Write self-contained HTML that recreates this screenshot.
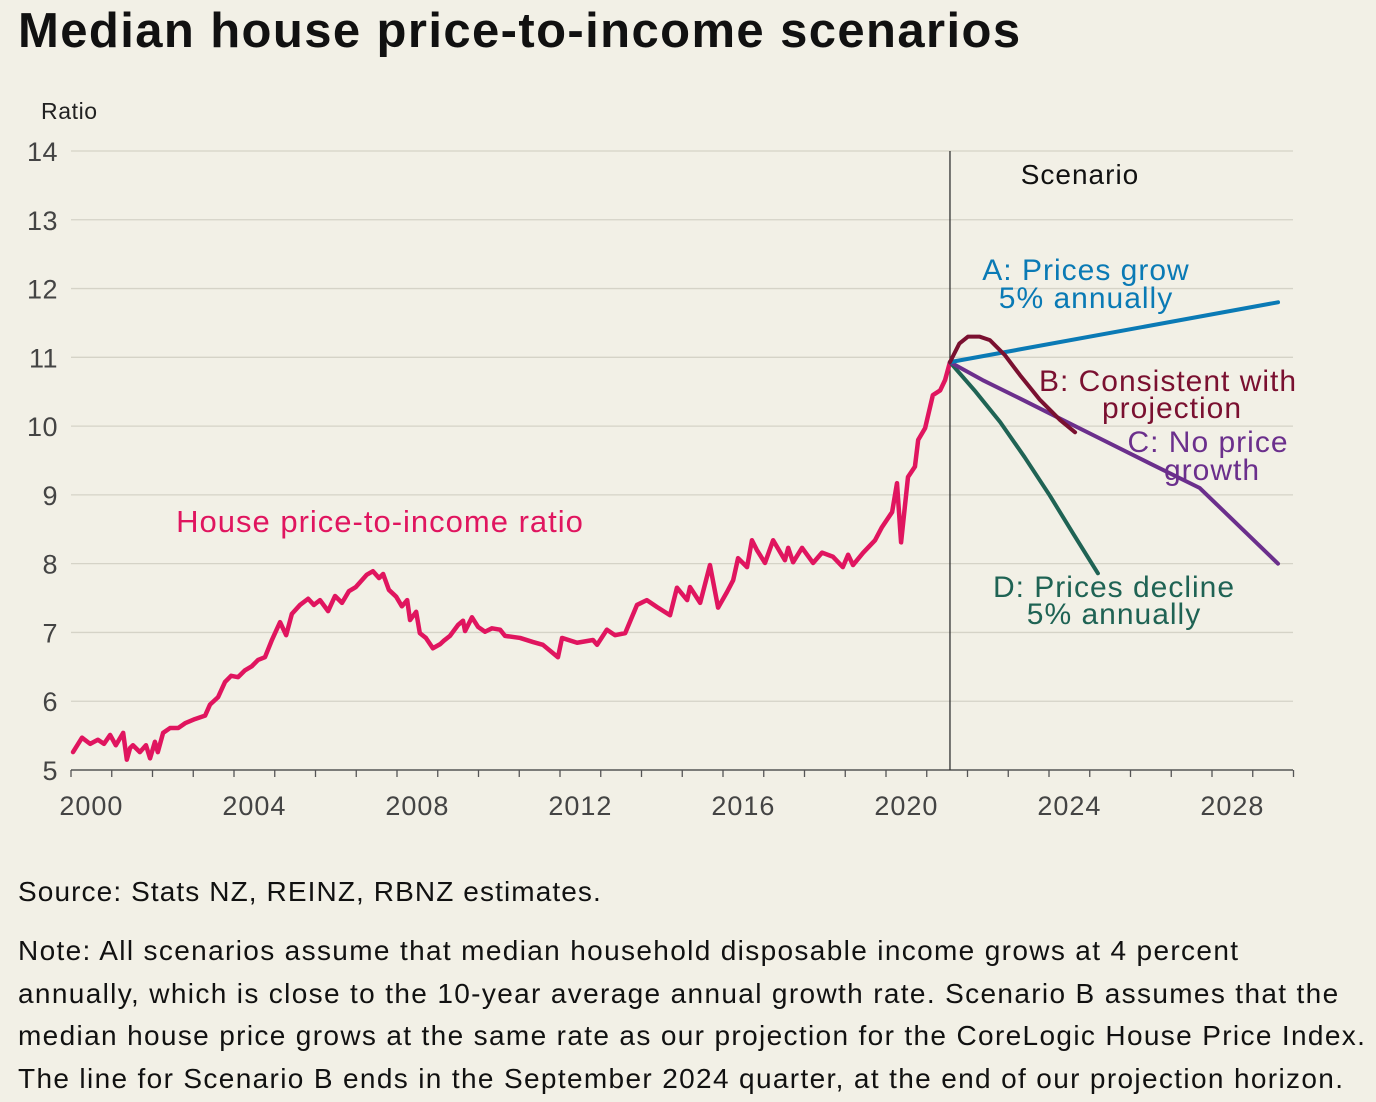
<!DOCTYPE html>
<html><head><meta charset="utf-8"><style>
body{margin:0;background:#f2f0e6;font-family:"Liberation Sans",sans-serif;}
#wrap{position:relative;width:1376px;height:1102px;overflow:hidden;background:#f2f0e6}
.t{position:absolute;color:#111;white-space:nowrap}
</style></head><body>
<div id="wrap">
<div class="t" style="left:18px;top:3px;font-size:49px;font-weight:bold;letter-spacing:1.4px">Median house price-to-income scenarios</div>
<svg id="chart" width="1376" height="860" style="position:absolute;left:0;top:0"></svg>
<div class="t" style="left:18px;top:876px;font-size:28px;letter-spacing:1.1px">Source: Stats NZ, REINZ, RBNZ estimates.</div>
<div class="t" style="left:18px;top:930px;font-size:28px;line-height:42.5px;letter-spacing:1.35px">Note: All scenarios assume that median household disposable income grows at 4 percent<br>annually, which is close to the 10-year average annual growth rate. Scenario B assumes that the<br>median house price grows at the same rate as our projection for the CoreLogic House Price Index.<br>The line for Scenario B ends in the September 2024 quarter, at the end of our projection horizon.</div>
</div>
<script>
const yTicks=[5,6,7,8,9,10,11,12,13,14];
const xTickLabels=[2000,2004,2008,2012,2016,2020,2024,2028];
const histDates=[2000.05,2000.27,2000.47,2000.66,2000.81,2000.96,2001.10,2001.28,2001.37,2001.45,2001.52,2001.69,2001.84,2001.94,2002.06,2002.13,2002.26,2002.43,2002.63,2002.80,2003.04,2003.29,2003.41,2003.61,2003.78,2003.93,2004.10,2004.27,2004.44,2004.59,2004.76,2004.93,2005.13,2005.28,2005.42,2005.62,2005.82,2005.96,2006.11,2006.31,2006.48,2006.65,2006.82,2006.99,2007.14,2007.26,2007.41,2007.56,2007.66,2007.80,2007.98,2008.12,2008.25,2008.32,2008.47,2008.56,2008.71,2008.88,2009.06,2009.15,2009.30,2009.50,2009.62,2009.67,2009.84,2009.99,2010.16,2010.33,2010.53,2010.65,2011.02,2011.34,2011.58,2011.95,2012.05,2012.42,2012.81,2012.91,2013.15,2013.35,2013.60,2013.89,2014.13,2014.38,2014.70,2014.87,2015.12,2015.19,2015.44,2015.68,2015.88,2016.10,2016.25,2016.37,2016.59,2016.71,2016.83,2017.03,2017.23,2017.52,2017.60,2017.72,2017.94,2018.21,2018.43,2018.70,2018.94,2019.07,2019.19,2019.44,2019.73,2019.90,2020.15,2020.27,2020.37,2020.54,2020.71,2020.79,2020.96,2021.15,2021.33,2021.45,2021.57];
const histValues=[5.26,5.47,5.38,5.44,5.38,5.51,5.36,5.54,5.15,5.32,5.36,5.26,5.36,5.17,5.41,5.26,5.54,5.61,5.61,5.68,5.74,5.79,5.95,6.06,6.28,6.37,6.35,6.45,6.51,6.60,6.64,6.89,7.15,6.96,7.27,7.40,7.49,7.40,7.47,7.31,7.53,7.43,7.60,7.66,7.76,7.84,7.89,7.79,7.85,7.62,7.52,7.38,7.47,7.18,7.30,6.99,6.92,6.77,6.83,6.88,6.95,7.11,7.17,7.02,7.22,7.08,7.01,7.06,7.04,6.95,6.92,6.86,6.82,6.64,6.92,6.85,6.89,6.82,7.04,6.96,6.99,7.40,7.47,7.37,7.25,7.65,7.47,7.66,7.43,7.98,7.36,7.59,7.76,8.08,7.95,8.34,8.20,8.01,8.34,8.05,8.23,8.02,8.23,8.01,8.16,8.10,7.95,8.13,7.98,8.16,8.34,8.53,8.75,9.17,8.31,9.26,9.41,9.80,9.97,10.45,10.52,10.67,10.93];
const aDates=[2021.57,2029.62];const aValues=[10.93,11.80];
const bDates=[2021.57,2021.80,2022.01,2022.30,2022.55,2022.92,2023.29,2023.78,2024.27,2024.64];
const bValues=[10.93,11.20,11.30,11.30,11.25,11.03,10.74,10.38,10.09,9.91];
const cDates=[2021.57,2022.40,2023.29,2024.30,2025.25,2026.50,2027.70,2029.62];
const cValues=[10.93,10.66,10.40,10.10,9.82,9.45,9.10,8.00];
const dDates=[2021.57,2022.20,2022.80,2023.40,2024.02,2024.60,2025.20];
const dValues=[10.93,10.50,10.06,9.55,8.99,8.43,7.86];

const NS='http://www.w3.org/2000/svg';
const svg=document.getElementById('chart');
const X=d=>71+(d-2000)*40.75;
const Y=v=>770-(v-5)*68.78;
const FONT='Liberation Sans, sans-serif';
function mk(tag,attrs,parent){const e=document.createElementNS(NS,tag);for(const k in attrs)e.setAttribute(k,attrs[k]);(parent||svg).appendChild(e);return e;}
yTicks.forEach(v=>{
  if(v>5){const g=mk('line',{x1:71,x2:1293,y1:Y(v),y2:Y(v),stroke:'#d5d3c7','stroke-width':1.3});
  
  }
  const t=mk('text',{x:58,y:Y(v)+10,'text-anchor':'end','font-size':27,fill:'#444','font-family':FONT,'letter-spacing':'0.5'});
  t.textContent=v;
  
  
});
const yt=mk('text',{x:41,y:119,'font-size':23,fill:'#222','font-family':FONT,'letter-spacing':'0.6'});yt.textContent='Ratio';


const ax=mk('line',{x1:71,x2:1293,y1:770,y2:770,stroke:'#555','stroke-width':1.5});


for(let yr=2000;yr<=2030;yr++){const tk=mk('line',{x1:X(yr),x2:X(yr),y1:770,y2:777,stroke:'#555','stroke-width':1.3});

}
xTickLabels.forEach(yr=>{const t=mk('text',{x:X(yr+0.5),y:815,'text-anchor':'middle','font-size':27,fill:'#444','font-family':FONT,'letter-spacing':'1'});t.textContent=yr;

});
const dv=mk('line',{x1:X(2021.57),x2:X(2021.57),y1:151,y2:770,stroke:'#333','stroke-width':1.3});


function line(ds,vs,color,name,w){const p=mk('polyline',{points:ds.map((d,i)=>X(d)+','+Y(vs[i])).join(' '),fill:'none',stroke:color,'stroke-width':w,'stroke-linejoin':'round','stroke-linecap':'round'});

}
line(histDates,histValues,'#e0155f','house-price-income-line',4.5);
line(dDates,dValues,'#1f6354','scenario-d-line',4);
line(cDates,cValues,'#6b2f8c','scenario-c-line',4);
line(aDates,aValues,'#0a7ab5','scenario-a-line',4);
line(bDates,bValues,'#7a1030','scenario-b-line',4);
function lab(txt,x,y,color,name,fs){const t=mk('text',{x:x,y:y,'text-anchor':'middle','font-size':fs||30,fill:color,'font-family':FONT,'letter-spacing':'1'});t.textContent=txt;

}
lab('Scenario',1080,184,'#111','scenario-heading',28);
lab('House price-to-income ratio',380,532,'#e0155f','series-label-hist',31);
lab('A: Prices grow',1086,280,'#0a7ab5','label-a');
lab('5% annually',1086,308,'#0a7ab5','label-a2');
lab('B: Consistent with',1168,391,'#7a1030','label-b');
lab('projection',1172,418,'#7a1030','label-b2');
lab('C: No price',1208,452,'#6b2f8c','label-c');
lab('growth',1212,480,'#6b2f8c','label-c2');
lab('D: Prices decline',1114,597,'#1f6354','label-d');
lab('5% annually',1114,624,'#1f6354','label-d2');
</script>
</body></html>
